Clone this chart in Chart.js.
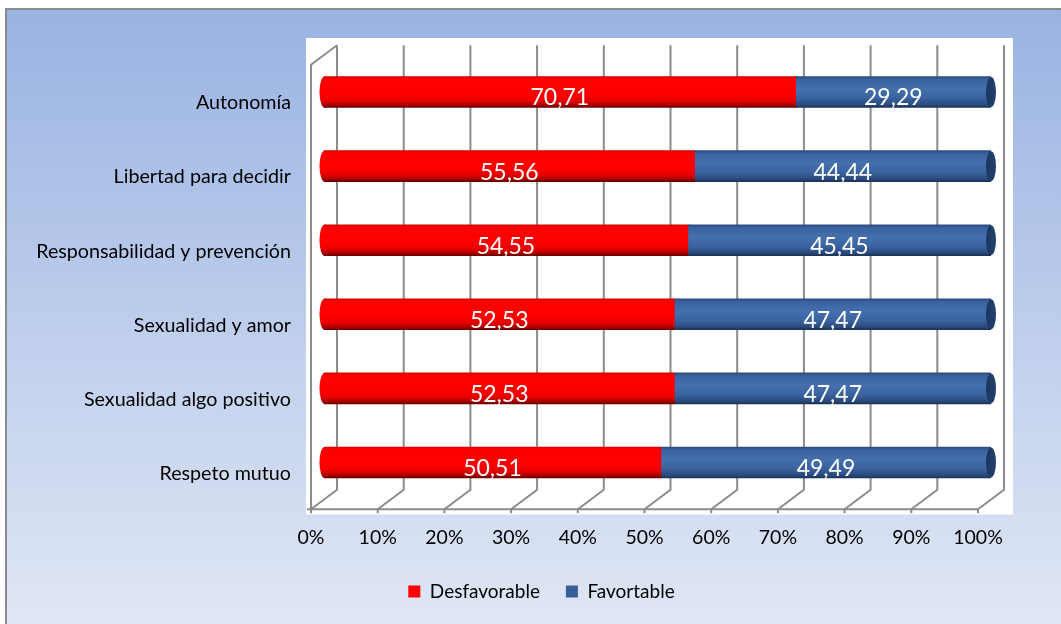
<!DOCTYPE html>
<html>
<head>
<meta charset="utf-8">
<script src="https://cdn.jsdelivr.net/npm/chart.js@4.4.1/dist/chart.umd.min.js"></script>
<style>
  html, body { margin: 0; padding: 0; background: #ffffff; }
  canvas { display: block; }
</style>
</head>
<body>
<canvas id="chart" width="1061" height="624"></canvas>
<script>
// Categories (top to bottom) and the two stacked percentage series
const categories = [
  'Autonomía',
  'Libertad para decidir',
  'Responsabilidad y prevención',
  'Sexualidad y amor',
  'Sexualidad algo positivo',
  'Respeto mutuo'
];
const desfavorable = [70.71, 55.56, 54.55, 52.53, 52.53, 50.51];
const favortable   = [29.29, 44.44, 45.45, 47.47, 47.47, 49.49];
const seriesNames  = ['Desfavorable', 'Favortable'];
const xTickValues  = [0, 10, 20, 30, 40, 50, 60, 70, 80, 90, 100];

const FONT = 'Lato';
const DX = 13;     // half depth of the 3D box, horizontal
const DY = 9.75;   // half depth of the 3D box, vertical
const BAR_H = 31;
const CAP_RX = 5;

const palette = {
  red:  { solid: '#ff0000', stops: [[0, '#d00000'], [0.07, '#ff0000'], [0.55, '#ff0000'], [0.78, '#e80000'], [0.92, '#a80000'], [1, '#6a0000']] },
  blue: { solid: '#3a5f96', stops: [[0, '#2a4b7c'], [0.1, '#3a63a0'], [0.4, '#4470ad'], [0.7, '#3a62a0'], [0.9, '#2b4c7e'], [1, '#1c3358']] }
};

function barGradient(ctx, yc, pal) {
  const g = ctx.createLinearGradient(0, yc - BAR_H / 2, 0, yc + BAR_H / 2);
  pal.stops.forEach(s => g.addColorStop(s[0], s[1]));
  return g;
}

function fillFor(pal) {
  return function (c) {
    if (c.type !== 'data' || !c.chart.chartArea) return pal.solid;
    const yc = c.chart.scales.y.getPixelForValue(c.dataIndex);
    return barGradient(c.chart.ctx, yc, pal);
  };
}

// Background frame, white plot panel and the 3D wall / floor gridlines
const framePlugin = {
  id: 'frame3d',
  afterLayout(chart) {
    // centre the legend row under the whole frame rather than the canvas
    if (chart.legend) {
      chart.legend.left = 92;
      chart.legend.right = 991;
    }
  },
  beforeDraw(chart) {
    const { ctx, width, height, chartArea: a, scales: { x } } = chart;
    ctx.save();
    ctx.fillStyle = '#ffffff';
    ctx.fillRect(0, 0, width, height);
    const bg = ctx.createLinearGradient(0, 9, 0, height);
    bg.addColorStop(0, '#99b3e2');
    bg.addColorStop(1, '#e0e7f5');
    ctx.fillStyle = bg;
    ctx.fillRect(6, 9, width, height);
    ctx.strokeStyle = '#8a8a8a';
    ctx.lineWidth = 2;
    ctx.strokeRect(6, 9, width + 10, height + 10);

    // white plot panel
    ctx.fillStyle = '#ffffff';
    ctx.fillRect(a.left - 18, a.top - 17, (a.right + 22) - (a.left - 18), (a.bottom + 15) - (a.top - 17));

    ctx.strokeStyle = '#8c8c8c';
    ctx.lineWidth = 2;
    ctx.lineCap = 'butt';
    const topB = a.top - DY, botB = a.bottom - DY, topF = a.top + DY, botF = a.bottom + DY;
    xTickValues.forEach(v => {
      const p = x.getPixelForValue(v);
      ctx.beginPath();
      ctx.moveTo(p + DX, topB);
      ctx.lineTo(p + DX, botB);
      ctx.lineTo(p - DX, botF);
      ctx.moveTo(p - DX, botF);
      ctx.lineTo(p - DX, botF + 4);
      ctx.stroke();
    });
    const p0 = x.getPixelForValue(0), p100 = x.getPixelForValue(100);
    ctx.beginPath();
    ctx.moveTo(p0 - DX - 4, botF);
    ctx.lineTo(p100 - DX, botF);
    ctx.moveTo(p0 - DX, botF);
    ctx.lineTo(p0 - DX, topF);
    ctx.lineTo(p0 + DX, topB);
    ctx.stroke();
    ctx.restore();
  }
};

// Rounded cylinder ends on each bar segment, plus the value labels
const cylinderPlugin = {
  id: 'cylinders',
  afterDatasetDraw(chart, args) {
    const { ctx } = chart;
    const pal = args.index === 0 ? palette.red : palette.blue;
    const last = args.index === chart.data.datasets.length - 1;
    ctx.save();
    args.meta.data.forEach(el => {
      const { x, y, base } = el.getProps(['x', 'y', 'base'], true);
      const left = Math.min(x, base), right = Math.max(x, base);
      const ry = BAR_H / 2;
      // convex left end
      ctx.beginPath();
      ctx.ellipse(left + 0.5, y, CAP_RX, ry, 0, Math.PI / 2, Math.PI * 1.5);
      ctx.lineTo(left + 2, y - ry);
      ctx.lineTo(left + 2, y + ry);
      ctx.closePath();
      ctx.fillStyle = barGradient(ctx, y, pal);
      ctx.fill();
      if (last) {
        // flat end face
        const g = ctx.createLinearGradient(right - CAP_RX, 0, right + CAP_RX, 0);
        g.addColorStop(0, '#1b355e');
        g.addColorStop(1, '#24426e');
        ctx.beginPath();
        ctx.ellipse(right, y, CAP_RX, ry - 0.5, 0, 0, Math.PI * 2);
        ctx.fillStyle = g;
        ctx.fill();
      }
    });
    ctx.restore();
  },
  afterDatasetsDraw(chart) {
    const { ctx } = chart;
    ctx.save();
    ctx.font = '23px ' + FONT;
    ctx.fillStyle = '#ffffff';
    ctx.textAlign = 'center';
    ctx.textBaseline = 'middle';
    chart.data.datasets.forEach((ds, di) => {
      chart.getDatasetMeta(di).data.forEach((el, i) => {
        const { x, y, base } = el.getProps(['x', 'y', 'base'], true);
        const label = ds.data[i].toFixed(2).replace('.', ',');
        ctx.fillText(label, (x + base) / 2, y + 6);
      });
    });
    ctx.restore();
  }
};

function build() {
  new Chart(document.getElementById('chart'), {
    type: 'bar',
    data: {
      labels: categories,
      datasets: [
        { label: seriesNames[0], data: desfavorable, backgroundColor: fillFor(palette.red), borderWidth: 0, barThickness: BAR_H },
        { label: seriesNames[1], data: favortable, backgroundColor: fillFor(palette.blue), borderWidth: 0, barThickness: BAR_H }
      ]
    },
    options: {
      indexAxis: 'y',
      responsive: false,
      animation: false,
      devicePixelRatio: 1,
      layout: { padding: { left: 0, right: 70, top: 55, bottom: 13 } },
      scales: {
        x: {
          stacked: true,
          min: 0,
          max: 100,
          grid: { display: false, drawTicks: false },
          border: { display: false },
          afterFit(scale) { scale.height = 56.5; },
          afterBuildTicks(scale) { scale.ticks = xTickValues.map(v => ({ value: v })); },
          ticks: {
            autoSkip: false,
            maxRotation: 0,
            padding: 27,
            labelOffset: -DX,
            color: '#000000',
            font: { family: FONT, size: 19.5 },
            callback: v => v + '%'
          }
        },
        y: {
          stacked: true,
          grid: { display: false, drawTicks: false },
          border: { display: false },
          afterFit(scale) { scale.width = 324; },
          ticks: {
            autoSkip: false,
            padding: 33,
            labelOffset: 11,
            color: '#000000',
            font: { family: FONT, size: 19.7 }
          }
        }
      },
      plugins: {
        tooltip: { enabled: false },
        legend: {
          position: 'bottom',
          labels: {
            boxWidth: 12,
            boxHeight: 12,
            padding: 26,
            color: '#000000',
            font: { family: FONT, size: 19 },
            generateLabels(chart) {
              return chart.data.datasets.map((ds, i) => ({
                text: ds.label,
                fillStyle: i === 0 ? palette.red.solid : palette.blue.solid,
                strokeStyle: 'transparent',
                lineWidth: 0,
                hidden: false,
                datasetIndex: i
              }));
            }
          }
        }
      }
    },
    plugins: [framePlugin, cylinderPlugin]
  });
}

if (document.fonts && document.fonts.load) {
  document.fonts.load('18px ' + FONT).then(build, build);
} else {
  build();
}
</script>
</body>
</html>
